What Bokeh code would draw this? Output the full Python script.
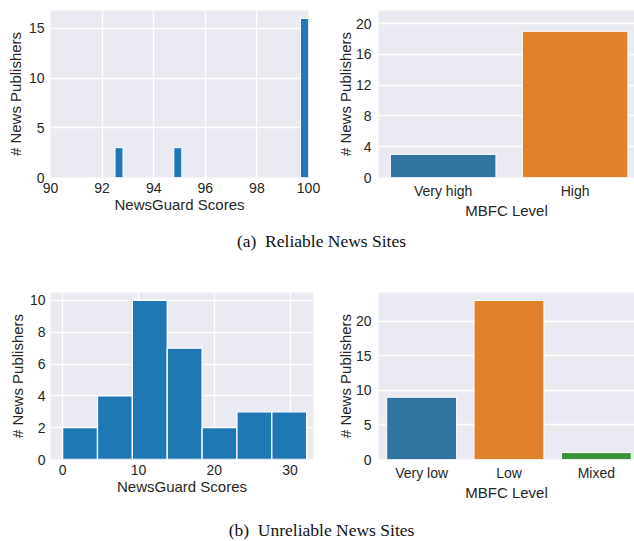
from bokeh.plotting import figure
from bokeh.layouts import column, row
from bokeh.models import Div, FixedTicker, Range1d
from bokeh.embed import file_html
from bokeh.resources import INLINE

# ---------------- data ----------------
rel_ng_left = [92.5, 94.78, 99.69]
rel_ng_right = [92.81, 95.09, 100.0]
rel_ng_counts = [3, 3, 16]
rel_ng_xticks = [90, 92, 94, 96, 98, 100]
rel_ng_yticks = [0, 5, 10, 15]

rel_mbfc_levels = ["Very high", "High"]
rel_mbfc_counts = [3, 19]
rel_mbfc_yticks = [0, 4, 8, 12, 16, 20]

unrel_ng_edges = [0, 4.6, 9.2, 13.8, 18.4, 23.0, 27.6, 32.2]
unrel_ng_counts = [2, 4, 10, 7, 2, 3, 3]
unrel_ng_xticks = [0, 10, 20, 30]
unrel_ng_yticks = [0, 2, 4, 6, 8, 10]

unrel_mbfc_levels = ["Very low", "Low", "Mixed"]
unrel_mbfc_counts = [9, 23, 1]
unrel_mbfc_yticks = [0, 5, 10, 15, 20]

bar_colors = ["#3274a1", "#e1812c", "#3a923a"]
hist_color = "#1f77b4"

SANS = "Liberation Sans"
TXT = "#262626"


def make_fig(width, height, x_range, y_range, bl, br, bt, bb, ystand, ylab_stand):
    p = figure(width=width, height=height, x_range=x_range, y_range=y_range,
               output_backend="svg", toolbar_location=None,
               min_border_left=bl, min_border_right=br,
               min_border_top=bt, min_border_bottom=bb)
    p.background_fill_color = "#eaeaf2"
    p.border_fill_color = "white"
    p.outline_line_color = None
    for ax in p.axis:
        ax.axis_line_color = None
        ax.major_tick_line_color = None
        ax.minor_tick_line_color = None
        ax.major_tick_out = 0
        ax.major_tick_in = 0
        ax.minor_tick_out = 0
        ax.minor_tick_in = 0
        ax.major_label_text_font = SANS
        ax.major_label_text_font_size = "14px"
        ax.major_label_text_color = TXT
        ax.axis_label_text_font = SANS
        ax.axis_label_text_font_size = "15px"
        ax.axis_label_text_font_style = "normal"
        ax.axis_label_text_color = TXT
    p.grid.grid_line_color = "white"
    p.grid.grid_line_width = 1.3
    p.xaxis.major_label_standoff = 5
    p.xaxis.axis_label_standoff = 0
    p.yaxis.major_label_standoff = ystand
    p.yaxis.axis_label_standoff = ylab_stand
    return p


# ---- (a) left: NewsGuard histogram ----
p1 = make_fig(333, 223, Range1d(90, 100), Range1d(0, 16.8), 50, 25, 10, 45, 6, 2)
p1.quad(left=rel_ng_left, right=rel_ng_right, top=rel_ng_counts, bottom=0,
        fill_color=hist_color, line_color="white", line_width=1)
p1.xaxis.ticker = FixedTicker(ticks=rel_ng_xticks)
p1.yaxis.ticker = FixedTicker(ticks=rel_ng_yticks)
p1.xaxis.axis_label = "NewsGuard Scores"
p1.yaxis.axis_label = "# News Publishers"

# ---- (a) right: MBFC bars ----
idx_a = list(range(len(rel_mbfc_levels)))
p2 = make_fig(301, 223, Range1d(-0.49, 1.45), Range1d(0, 21.7), 44, 0, 7, 46, 7, -1)
p2.vbar(x=idx_a, width=0.8, top=rel_mbfc_counts, bottom=0,
        fill_color=bar_colors[:len(idx_a)], line_color="white", line_width=1)
p2.xaxis.ticker = FixedTicker(ticks=idx_a)
p2.xaxis.major_label_overrides = {i: s for i, s in zip(idx_a, rel_mbfc_levels)}
p2.yaxis.ticker = FixedTicker(ticks=rel_mbfc_yticks)
p2.xgrid.grid_line_color = None
p2.xaxis.axis_label = "MBFC Level"
p2.yaxis.axis_label = "# News Publishers"

CAP_STYLE = ("font-family:'Liberation Serif',serif;font-size:17.5px;color:#111;"
             "text-align:center;width:634px;padding-left:9px;box-sizing:border-box;")

cap_a = Div(text='<div style="' + CAP_STYLE + 'margin-top:6px;">'
                 '(a)&nbsp;&nbsp;Reliable News Sites</div>',
            width=634, height=40, margin=0)

# ---- (b) left: NewsGuard histogram ----
p3 = make_fig(333, 240, Range1d(-1.6, 33.1), Range1d(0, 10.5), 50, 20, 24, 41, 5, 1)
p3.quad(left=unrel_ng_edges[:-1], right=unrel_ng_edges[1:], top=unrel_ng_counts,
        bottom=0, fill_color=hist_color, line_color="white", line_width=1.3)
p3.xaxis.ticker = FixedTicker(ticks=unrel_ng_xticks)
p3.yaxis.ticker = FixedTicker(ticks=unrel_ng_yticks)
p3.xaxis.axis_label = "NewsGuard Scores"
p3.yaxis.axis_label = "# News Publishers"

# ---- (b) right: MBFC bars ----
idx_b = list(range(len(unrel_mbfc_levels)))
p4 = make_fig(301, 240, Range1d(-0.494, 2.437), Range1d(0, 24.15), 44, 0, 29, 41, 7, -1)
p4.vbar(x=idx_b, width=0.8, top=unrel_mbfc_counts, bottom=0,
        fill_color=bar_colors[:len(idx_b)], line_color="white", line_width=1)
p4.xaxis.ticker = FixedTicker(ticks=idx_b)
p4.xaxis.major_label_overrides = {i: s for i, s in zip(idx_b, unrel_mbfc_levels)}
p4.yaxis.ticker = FixedTicker(ticks=unrel_mbfc_yticks)
p4.xgrid.grid_line_color = None
p4.xaxis.axis_label = "MBFC Level"
p4.yaxis.axis_label = "# News Publishers"

cap_b = Div(text='<div style="' + CAP_STYLE + 'margin-top:15px;">'
                 '(b)&nbsp;&nbsp;Unreliable News Sites</div>',
            width=634, height=38, margin=0)

layout = column(row(p1, p2, spacing=0), cap_a, row(p3, p4, spacing=0), cap_b, spacing=0)

open("out.html", "w").write(file_html(layout, INLINE))
